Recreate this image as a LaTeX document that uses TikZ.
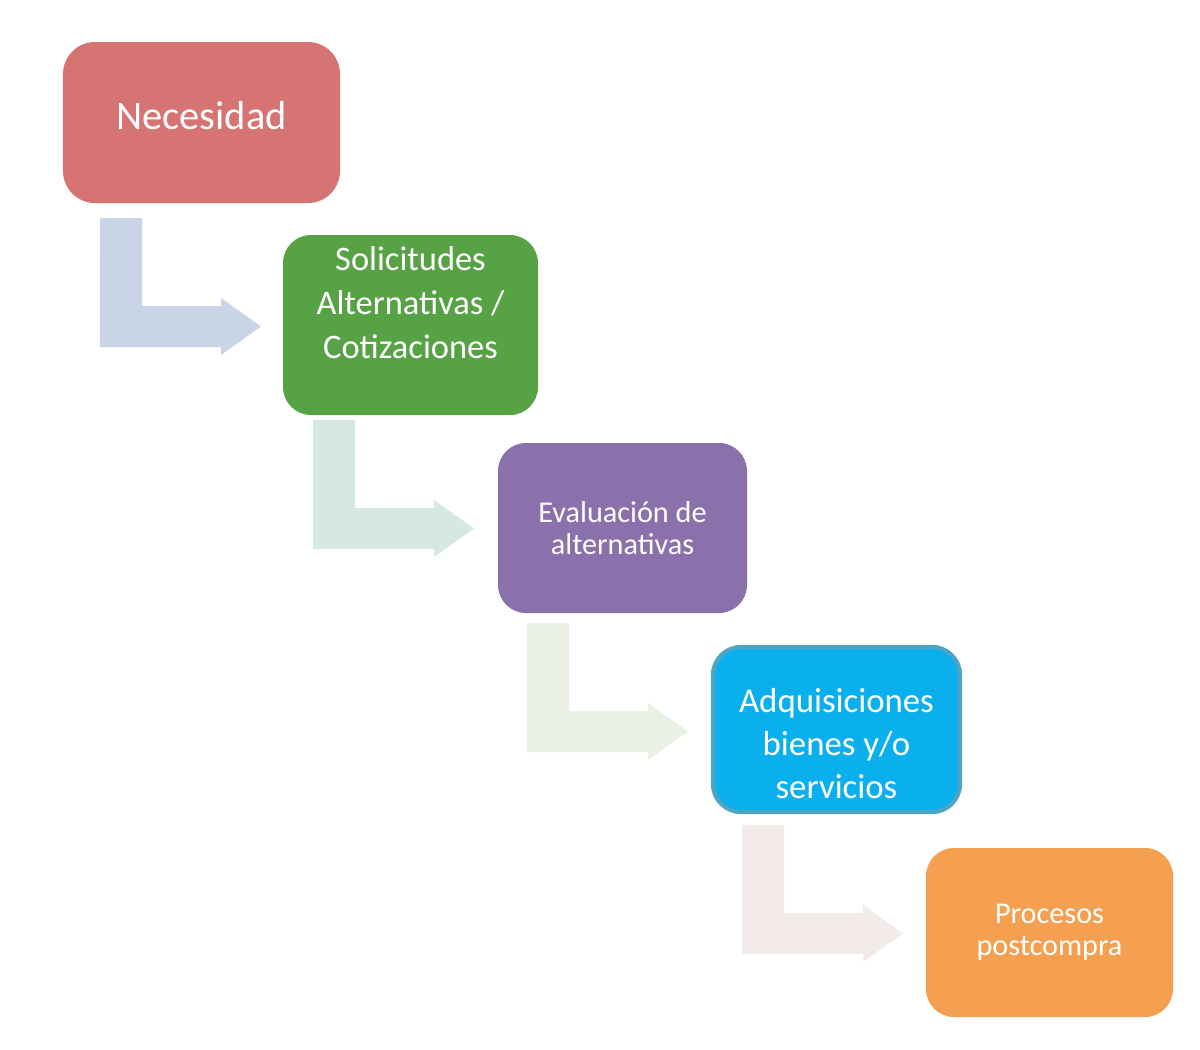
\documentclass[tikz,border=0pt]{standalone}
\usepackage{fontspec}
\setmainfont{Carlito}
\definecolor{necred}{RGB}{214,116,116}
\definecolor{solgreen}{RGB}{86,162,68}
\definecolor{evalpurple}{RGB}{139,112,172}
\definecolor{adqblue}{RGB}{10,176,238}
\definecolor{adqedge}{RGB}{75,165,195}
\definecolor{procorange}{RGB}{245,160,80}
\definecolor{arrA}{RGB}{201,212,230}
\definecolor{arrB}{RGB}{213,233,224}
\definecolor{arrC}{RGB}{234,240,228}
\definecolor{arrD}{RGB}{243,234,234}

\begin{document}
\begin{tikzpicture}[
  stage/.style={rounded corners=0.28cm, inner sep=0pt},
  stagetext/.style={text=white, align=center, inner sep=0pt}]
\useasboundingbox (0,0) rectangle (12,-10.5);
\fill[white] (0,0) rectangle (12,-10.5);
\foreach \x/\y/\c in {1.00/-2.18/arrA, 3.13/-4.20/arrB, 5.27/-6.23/arrC, 7.42/-8.25/arrD}
  \fill[\c] (\x,\y) -- ++(0.42,0) -- ++(0,-0.88) -- ++(0.79,0) -- ++(0,0.08)
    -- ++(0.40,-0.285) -- ++(-0.40,-0.285) -- ++(0,0.08) -- ++(-1.21,0) -- cycle;
\node[stage, fill=necred, minimum width=2.77cm, minimum height=1.61cm, rounded corners=0.32cm] (nec) at (2.015,-1.225) {};
\node[stage, fill=solgreen, minimum width=2.55cm, minimum height=1.80cm] (sol) at (4.105,-3.25) {};
\node[stage, fill=evalpurple, minimum width=2.49cm, minimum height=1.70cm] (eva) at (6.225,-5.28) {};
\node[stage, fill=adqblue, draw=adqedge, line width=1.2pt, minimum width=2.47cm, minimum height=1.65cm] (adq) at (8.365,-7.295) {};
\node[stage, fill=procorange, minimum width=2.47cm, minimum height=1.69cm] (pro) at (10.495,-9.325) {};
\node[stagetext, font=\fontsize{11.5}{14}\selectfont] (nec-t) at ([yshift=0.07cm]nec.center) {Necesidad};
\node[stagetext, font=\fontsize{9.8}{12.5}\selectfont] (sol-t) at ([yshift=0.22cm]sol.center) {Solicitudes\\Alternativas /\\Cotizaciones};
\node[stagetext, font=\fontsize{8.6}{8.9}\selectfont] (eva-t) at (eva.center) {Evaluación de\\alternativas};
\node[stagetext, font=\fontsize{9.9}{12.3}\selectfont] (adq-t) at ([yshift=-0.14cm]adq.center) {Adquisiciones\\bienes y/o\\servicios};
\node[stagetext, font=\fontsize{8.6}{9.2}\selectfont] (pro-t) at (pro.center) {Procesos\\postcompra};
\end{tikzpicture}
\end{document}
